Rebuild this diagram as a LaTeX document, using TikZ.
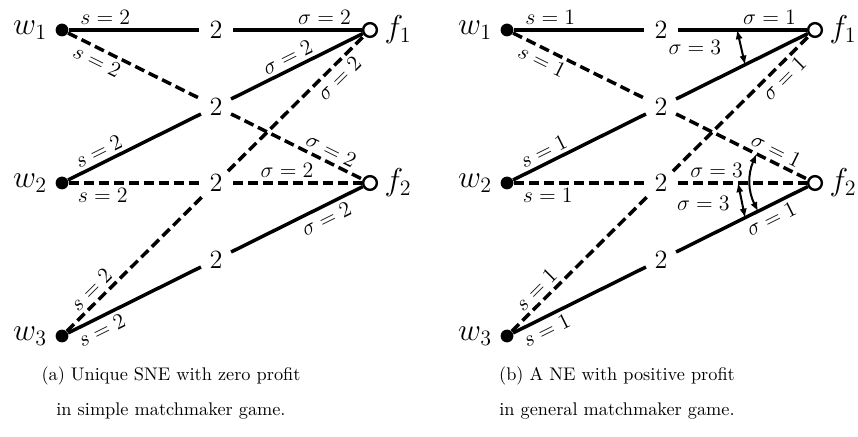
\documentclass[tikz,border=0pt]{standalone}
\usetikzlibrary{calc,arrows.meta}

\tikzset{
  worker/.style={circle, fill=black, inner sep=0pt, minimum size=7pt},
  firm/.style={circle, draw, fill=white, line width=1.3pt, inner sep=0pt, minimum size=7.5pt},
  midnode/.style={circle, inner sep=0pt, minimum size=18pt, font=\Large},
  matched/.style={line width=1.9pt},
  unmatched/.style={line width=1.9pt, dash pattern=on 5.5pt off 2.7pt},
  lab/.style={font=\large, sloped, inner sep=2pt},
  diffarrow/.style={{Latex[length=5pt,width=4pt]}-{Latex[length=5pt,width=4pt]}, line width=1.1pt},
}

\begin{document}
\begin{tikzpicture}[x=1.922mm, y=1.922mm]
    \useasboundingbox (0,0) rectangle (85.8,43.6);

    % (a) simple matchmaker game
    \node[worker, label={[font=\LARGE, label distance=1pt]left:$w_1$}] (aw1) at (6.2,40.6) {};
    \node[worker, label={[font=\LARGE, label distance=1pt]left:$w_2$}] (aw2) at (6.2,25.3) {};
    \node[worker, label={[font=\LARGE, label distance=1pt]left:$w_3$}] (aw3) at (6.2,10.0) {};
    \node[firm, label={[font=\LARGE]right:$f_1$}] (af1) at (37,40.6) {};
    \node[firm, label={[font=\LARGE]right:$f_2$}] (af2) at (37,25.3) {};
    \node[midnode] (am1) at (21.6,40.6) {2};
    \node[midnode] (am2) at (21.6,32.95) {2};
    \node[midnode] (am3) at (21.6,25.3) {2};
    \node[midnode] (am4) at (21.6,17.65) {2};

    \draw[matched] (aw1) -- node[lab, above, pos=0.28] {$s=2$} (am1);
    \draw[matched] (am1) -- node[lab, above, pos=0.71] {$\sigma=2$} (af1);
    \draw[unmatched] (aw1) -- node[lab, below, pos=0.26] {$s=2$} (am2);
    \draw[unmatched] (am2) -- node[lab, above, pos=0.72] {$\sigma=2$} (af2);
    \draw[matched] (aw2) -- node[lab, above, pos=0.27] {$s=2$} (am2);
    \draw[matched] (am2) -- node[lab, above, pos=0.47] {$\sigma=2$} (af1);
    \draw[unmatched] (aw2) -- node[lab, below, pos=0.26] {$s=2$} (am3);
    \draw[unmatched] (am3) -- node[lab, above, pos=0.42] {$\sigma=2$} (af2);
    \draw[unmatched] (aw3) -- node[lab, above, pos=0.24] {$s=2$} (am3);
    \draw[unmatched] (am3) -- node[lab, below, pos=0.75] {$\sigma=2$} (af1);
    \draw[matched] (aw3) -- node[lab, below, pos=0.21] {$s=2$} (am4);
    \draw[matched] (am4) -- node[lab, below, pos=0.68] {$\sigma=2$} (af2);

    \node[align=center] (capa) at (17.1,4.3) {(a) Unique SNE with zero profit\\[7.5pt] in simple matchmaker game.};

    % (b) general matchmaker game
    \begin{scope}[shift={(44.5,0)}]
    \node[worker, label={[font=\LARGE, label distance=1pt]left:$w_1$}] (bw1) at (6.2,40.6) {};
    \node[worker, label={[font=\LARGE, label distance=1pt]left:$w_2$}] (bw2) at (6.2,25.3) {};
    \node[worker, label={[font=\LARGE, label distance=1pt]left:$w_3$}] (bw3) at (6.2,10.0) {};
    \node[firm, label={[font=\LARGE]right:$f_1$}] (bf1) at (37,40.6) {};
    \node[firm, label={[font=\LARGE]right:$f_2$}] (bf2) at (37,25.3) {};
    \node[midnode] (bm1) at (21.6,40.6) {2};
    \node[midnode] (bm2) at (21.6,32.95) {2};
    \node[midnode] (bm3) at (21.6,25.3) {2};
    \node[midnode] (bm4) at (21.6,17.65) {2};

    \draw[matched] (bw1) -- node[lab, above, pos=0.28] {$s=1$} (bm1);
    \draw[matched] (bm1) -- node[lab, above, pos=0.71] {$\sigma=1$} (bf1);
    \draw[unmatched] (bw1) -- node[lab, below, pos=0.26] {$s=1$} (bm2);
    \draw[unmatched] (bm2) -- node[lab, above, pos=0.72] {$\sigma=1$} (bf2);
    \draw[matched] (bw2) -- node[lab, above, pos=0.27] {$s=1$} (bm2);
    \draw[matched] (bm2) -- (bf1);
    \draw[unmatched] (bw2) -- node[lab, below, pos=0.26] {$s=1$} (bm3);
    \draw[unmatched] (bm3) -- node[lab, above, pos=0.30] {$\sigma=3$} (bf2);
    \draw[unmatched] (bw3) -- node[lab, above, pos=0.24] {$s=1$} (bm3);
    \draw[unmatched] (bm3) -- node[lab, below, pos=0.75] {$\sigma=1$} (bf1);
    \draw[matched] (bw3) -- node[lab, below, pos=0.21] {$s=1$} (bm4);
    \draw[matched] (bm4) -- node[lab, below, pos=0.68] {$\sigma=1$} (bf2);
    \end{scope}

    % profit arrows
    \coordinate (t1) at ($(bw1)!0.747!(bf1)$);
    \coordinate (t2) at ($(bw2)!0.773!(bf1)$);
    \coordinate (l1) at ($(bw2)!0.75!(bf2)$);
    \coordinate (l2) at ($(bw3)!0.773!(bf2)$);
    \coordinate (c1) at ($(bw1)!0.81!(bf2)$);
    \coordinate (c2) at ($(bw3)!0.815!(bf2)$);
    \draw[diffarrow] (t1) -- node[font=\large, left=7pt] {$\sigma=3$} (t2);
    \draw[diffarrow] (l1) -- node[font=\large, left=3pt, pos=0.6] {$\sigma=3$} (l2);
    \draw[diffarrow] (c1) to[bend right=25] (c2);

    \node[align=center] (capb) at (61.7,4.3) {(b) A NE with positive profit\\[7.5pt] in general matchmaker game.};
\end{tikzpicture}
\end{document}
